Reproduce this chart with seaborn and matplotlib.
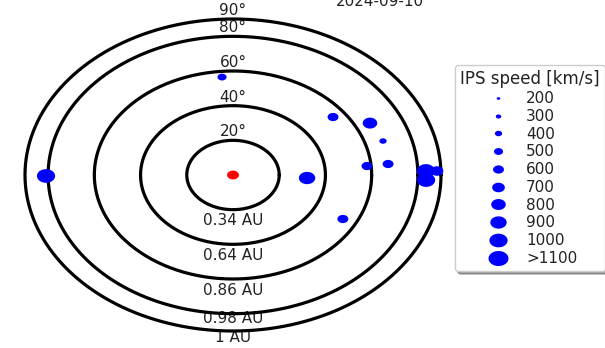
import numpy as np
import pandas as pd
import matplotlib
matplotlib.use("Agg")
import matplotlib.pyplot as plt
from matplotlib.lines import Line2D
from matplotlib.markers import MarkerStyle
from matplotlib.path import Path
import seaborn as sns

# --- data -------------------------------------------------------------
date_label = "2024-09-10"

ring_elong = [20, 40, 60, 80, 90]
ring_top_labels = ["20°", "40°", "60°", "80°", "90°"]
ring_bottom_labels = ["0.34 AU", "0.64 AU", "0.86 AU", "0.98 AU", "1 AU"]

# IPS observations: elongation (deg), angle around the Sun (deg), speed (km/s)
elong_deg = [80.9, 56.7, 54.7, 66.4, 67.8, 58.2, 67.4, 32.1, 53.9, 83.5, 83.6, 88.3]
angle_deg = [180.4, 94.8, 37.7, 26.8, 16.8, 5.1, 5.4, -3.1, -28.1, 1.6, -2.0, 1.5]
speed_kms = [1000, 500, 600, 800, 400, 600, 600, 900, 600, 1000, 1000, 700]

legend_speeds = [200, 300, 400, 500, 600, 700, 800, 900, 1000, 1100]
legend_labels = ["200", "300", "400", "500", "600", "700", "800", "900", "1000", ">1100"]
legend_title = "IPS speed [km/s]"

# --- style ------------------------------------------------------------
sns.set_theme(style="white")
plt.rcParams["font.family"] = ["DejaVu Sans"]
FS = 11
TEXT = "#222222"

# slightly flattened dot shape
t = np.linspace(0, 2 * np.pi, 64)
dot_marker = MarkerStyle(Path(np.column_stack([1.33 * np.cos(t), np.sin(t)]), closed=True))


def dot_width_pt(v):
    return v / 55.0 * 0.72


fig = plt.figure(figsize=(6.05, 3.48), dpi=100)
ax = fig.add_axes([25 / 605, 17 / 348, 416 / 605, 312 / 348])
ax.set_xlim(-90, 90)
ax.set_ylim(-90, 90)
ax.set_axis_off()

# elongation rings
theta = np.linspace(0, 2 * np.pi, 361)
for e in ring_elong:
    sns.lineplot(x=e * np.cos(theta), y=e * np.sin(theta), sort=False, estimator=None,
                 color="black", linewidth=2.3, ax=ax, clip_on=False, zorder=2)

# label offsets (points) above / below each ring
top_offsets = [3, 3, 3, 3, 3]
bottom_offsets = [-11.2, -11.2, -11.2, -7.0, -8.2]
for e, top, bottom, dt, db in zip(ring_elong, ring_top_labels, ring_bottom_labels,
                                  top_offsets, bottom_offsets):
    ax.annotate(top, xy=(0, e), xytext=(0, dt), textcoords="offset points",
                ha="center", va="baseline", fontsize=FS, color=TEXT, zorder=1)
    ax.annotate(bottom, xy=(0, -e), xytext=(0, db), textcoords="offset points",
                ha="center", va="baseline", fontsize=FS, color=TEXT, zorder=1)

# IPS points
el = np.array(elong_deg)
ang = np.deg2rad(angle_deg)
df = pd.DataFrame({"x": el * np.cos(ang), "y": el * np.sin(ang), "speed": speed_kms})
sns.scatterplot(data=df, x="x", y="y", size="speed",
                sizes={v: dot_width_pt(v) ** 2 for v in sorted(set(speed_kms))},
                marker=dot_marker, color="blue", linewidth=0, edgecolor="none",
                legend=False, ax=ax, clip_on=False, zorder=3)

# observer at the centre
sns.scatterplot(x=[0.0], y=[0.0], marker=dot_marker, color="red", s=dot_width_pt(650) ** 2,
                linewidth=0, edgecolor="none", legend=False, ax=ax, zorder=4)

fig.text(380 / 605, 1 - 5.5 / 348, date_label, ha="center", va="baseline",
         fontsize=FS, color=TEXT)

handles = [Line2D([], [], linestyle="none", marker=dot_marker, markersize=dot_width_pt(v),
                  markerfacecolor="blue", markeredgewidth=0)
           for v in legend_speeds]
leg = ax.legend(handles, legend_labels, title=legend_title, loc="upper left",
                bbox_to_anchor=(455 / 605, 1 - 65 / 348), bbox_transform=fig.transFigure,
                borderaxespad=0, fontsize=FS, title_fontsize=12, labelspacing=0.18,
                borderpad=0.35, frameon=True, fancybox=True, shadow=True)
for txt in leg.get_texts():
    txt.set_color(TEXT)
leg.get_title().set_color(TEXT)

fig.savefig("out.png", dpi=100)
